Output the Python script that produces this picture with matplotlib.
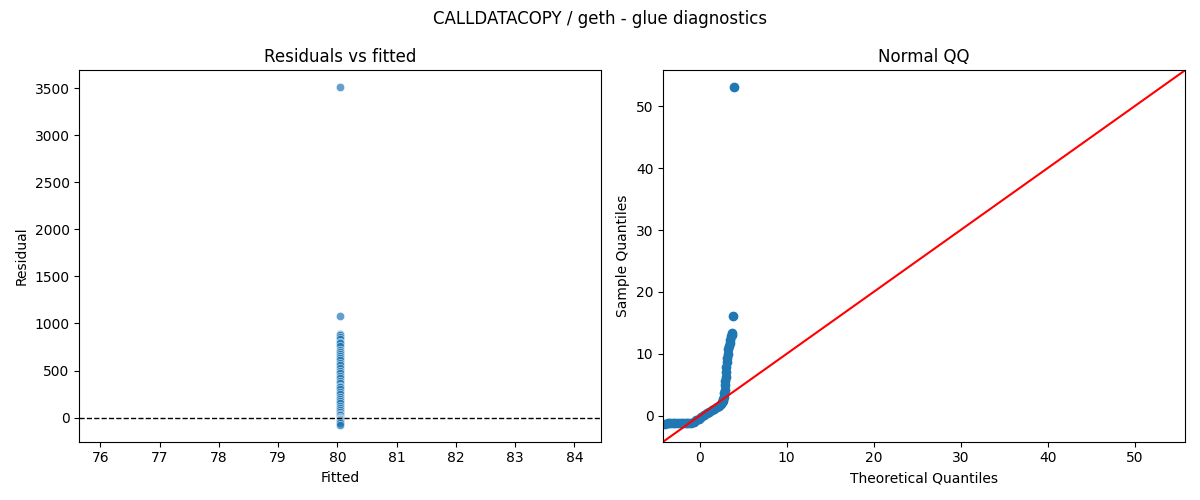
import numpy as np
import matplotlib
matplotlib.use("Agg")
import matplotlib.pyplot as plt
import seaborn as sns

# residuals of the glue fit (all share the same fitted value)
resid = [3510, 1075, 890, 875, 860, 835, 800, 790, 760, 720, 700, 680, 650,
         630, 610, 580, 560, 530, 500, 470, 440, 420, 390, 370, 340, 320,
         300, 270, 250, 220, 200, 180, 150, 120, 100, 80, 60, 40, 25, 10,
         0, -10, -20, -30, -40, -50, -60, -77]
fitted = [80.05] * len(resid)

# normal QQ points (standardised residuals)
theo_q = [-4.0, -3.7, -3.4, -3.1, -2.8, -2.5, -2.2, -1.9, -1.6, -1.3, -1.0,
          -0.7, -0.4, -0.1, 0.2, 0.5, 0.8, 1.1, 1.4, 1.7, 2.0, 2.2, 2.4,
          2.55, 2.65, 2.72, 2.78, 2.82, 2.86, 2.9, 2.94, 2.98, 3.02, 3.07,
          3.12, 3.17, 3.23, 3.3, 3.37, 3.44, 3.52, 3.6, 3.67, 3.74, 3.87, 4.0]
sample_q = [-1.27, -1.25, -1.24, -1.23, -1.22, -1.21, -1.2, -1.19, -1.18,
            -1.16, -1.12, -0.97, -0.75, -0.5, -0.2, 0.08, 0.38, 0.62, 0.85,
            1.1, 1.4, 1.65, 1.95, 2.2, 2.45, 2.7, 3.1, 3.6, 4.2, 4.9, 5.6,
            6.3, 7.0, 7.8, 8.6, 9.3, 10.0, 10.7, 11.3, 11.8, 12.3, 12.8,
            13.1, 13.4, 16.1, 53.07]

fig, axes = plt.subplots(1, 2, figsize=(12, 5), dpi=100)

ax = axes[0]
sns.scatterplot(x=fitted, y=resid, alpha=0.7, ax=ax)
ax.axhline(0, color="black", linestyle="--", linewidth=1)
ax.set_title("Residuals vs fitted")
ax.set_xlabel("Fitted")
ax.set_ylabel("Residual")

ax = axes[1]
ax.plot(theo_q, sample_q, marker="o", linestyle="none",
        markerfacecolor="C0", markeredgecolor="C0")
# 45 degree reference line over the shared limits
lims = [-4.2, 55.8]
ax.plot(lims, lims, "r-")
ax.set_xlim(lims)
ax.set_ylim(lims)
ax.set_title("Normal QQ")
ax.set_xlabel("Theoretical Quantiles")
ax.set_ylabel("Sample Quantiles")

fig.suptitle("CALLDATACOPY / geth - glue diagnostics")
fig.tight_layout()
fig.savefig("out.png")
